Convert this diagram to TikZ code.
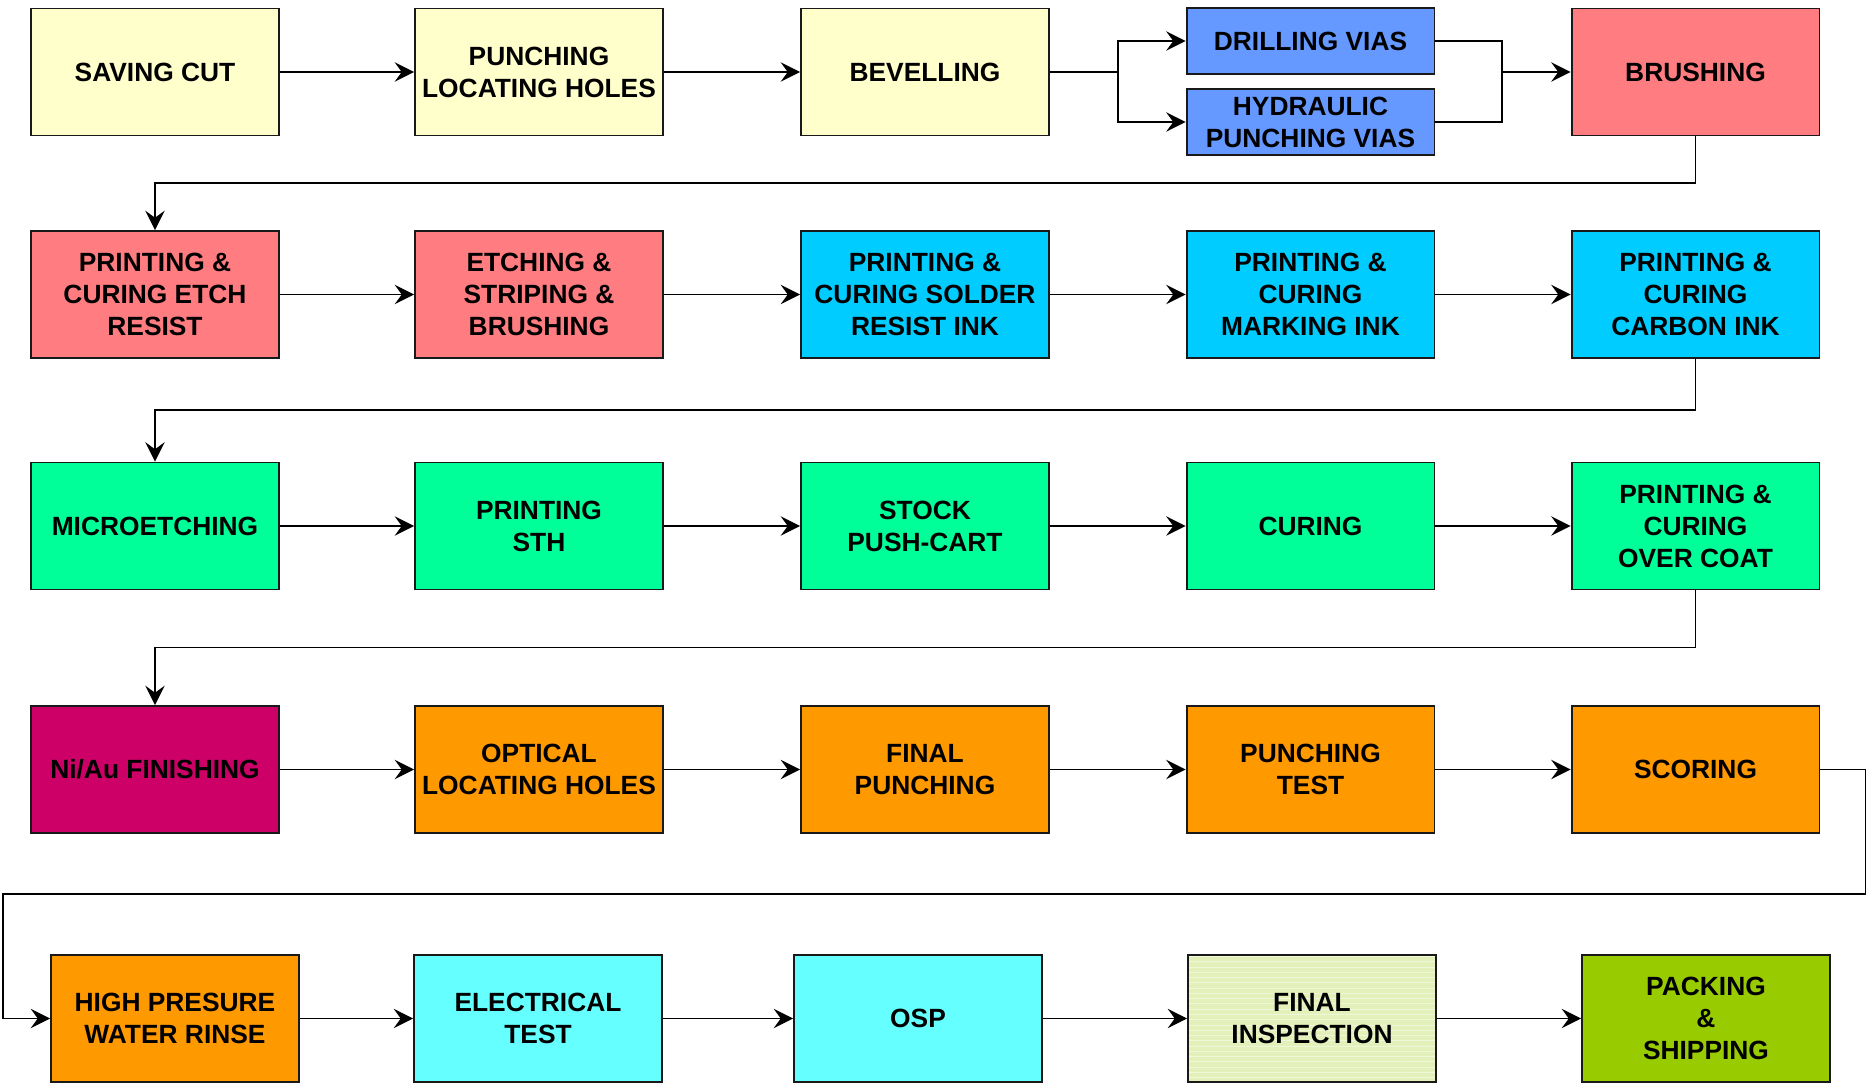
\documentclass[tikz,border=0pt]{standalone}
\usepackage{fontspec}
\setmainfont{Liberation Sans}
\usetikzlibrary{arrows.meta,patterns}
\definecolor{cyel}{HTML}{FFFFCC}
\definecolor{cblu}{HTML}{6699FF}
\definecolor{cpnk}{HTML}{FF7C80}
\definecolor{ccya}{HTML}{00CCFF}
\definecolor{cgrn}{HTML}{00FF99}
\definecolor{cmag}{HTML}{CC0066}
\definecolor{corg}{HTML}{FF9900}
\definecolor{clcy}{HTML}{66FFFF}
\definecolor{cfin}{HTML}{E3F0BA}
\definecolor{cpck}{HTML}{99CC00}
\tikzset{
  box/.style={draw=black!90, line width=1.1pt, rectangle, minimum width=4.96cm, minimum height=2.54cm,
    inner sep=0pt, align=center, font=\fontsize{15}{18.2}\selectfont\bfseries, text=black},
  sbox/.style={box, minimum height=1.31cm},
  arr/.style={line width=1.1pt, -{Stealth[length=11pt,width=11pt,inset=4pt]}},
  ln/.style={line width=1.1pt}
}
\begin{document}
\begin{tikzpicture}[x=0.02cm,y=-0.02cm]
\useasboundingbox (0,0) rectangle (1867,1089);
% row 1
\node[box, fill=cyel] (saving) at (155,72) {SAVING CUT};
\node[box, fill=cyel] (punch) at (539,72) {PUNCHING\\LOCATING HOLES};
\node[box, fill=cyel] (bevel) at (925,72) {BEVELLING};
\node[sbox, fill=cblu] (drill) at (1310.5,41) {DRILLING VIAS};
\node[sbox, fill=cblu] (hyd) at (1310.5,122) {HYDRAULIC\\PUNCHING VIAS};
\node[box, fill=cpnk] (brush) at (1695.5,72) {BRUSHING};
% row 2
\node[box, fill=cpnk] (pcer) at (155,294.5) {PRINTING \&\\CURING ETCH\\RESIST};
\node[box, fill=cpnk] (esb) at (539,294.5) {ETCHING \&\\STRIPING \&\\BRUSHING};
\node[box, fill=ccya] (pcsr) at (925,294.5) {PRINTING \&\\CURING SOLDER\\RESIST INK};
\node[box, fill=ccya] (pcmi) at (1310.5,294.5) {PRINTING \&\\CURING\\MARKING INK};
\node[box, fill=ccya] (pcci) at (1695.5,294.5) {PRINTING \&\\CURING\\CARBON INK};
% row 3
\node[box, fill=cgrn] (micro) at (155,526) {MICROETCHING};
\node[box, fill=cgrn] (psth) at (539,526) {PRINTING\\STH};
\node[box, fill=cgrn] (stock) at (925,526) {STOCK\\PUSH-CART};
\node[box, fill=cgrn] (curing) at (1310.5,526) {CURING};
\node[box, fill=cgrn] (pcoc) at (1695.5,526) {PRINTING \&\\CURING\\OVER COAT};
% row 4
\node[box, fill=cmag] (niau) at (155,769.5) {Ni/Au FINISHING};
\node[box, fill=corg] (optic) at (539,769.5) {OPTICAL\\LOCATING HOLES};
\node[box, fill=corg] (fpunch) at (925,769.5) {FINAL\\PUNCHING};
\node[box, fill=corg] (ptest) at (1310.5,769.5) {PUNCHING\\TEST};
\node[box, fill=corg] (scoring) at (1695.5,769.5) {SCORING};
% row 5
\node[box, fill=corg] (hpw) at (175,1018.5) {HIGH PRESURE\\WATER RINSE};
\node[box, fill=clcy] (etest) at (538,1018.5) {ELECTRICAL\\TEST};
\node[box, fill=clcy] (osp) at (918,1018.5) {OSP};
\node[box, fill=cfin,
  postaction={pattern=horizontal lines, pattern color=white!45!cfin},
  postaction={draw=black!90, line width=1.1pt}] (finsp) at (1312,1018.5) {FINAL\\INSPECTION};
\node[box, fill=cpck] (pack) at (1706,1018.5) {PACKING\\\&\\SHIPPING};
% coordinates
\coordinate (bl) at (1118,72);
\coordinate (br) at (1502,72);
\coordinate (t1) at (155,183);
\coordinate (t2) at (155,410);
\coordinate (t3) at (155,647.5);
\coordinate (t4a) at (1865.5,894);
\coordinate (t4b) at (3,894);
% row 1 connectors
\draw[arr] (saving) -- (punch);
\draw[arr] (punch) -- (bevel);
\draw[ln] (bevel.east) -- (bl);
\draw[arr] (bl) |- (drill.west);
\draw[arr] (bl) |- (hyd.west);
\draw[ln] (drill.east) -| (br);
\draw[ln] (hyd.east) -| (br);
\draw[arr] (br) -- (brush.west);
\draw[arr] (brush.south) |- (t1) -- (pcer.north);
% row 2
\draw[arr] (pcer) -- (esb);
\draw[arr] (esb) -- (pcsr);
\draw[arr] (pcsr) -- (pcmi);
\draw[arr] (pcmi) -- (pcci);
\draw[arr] (pcci.south) |- (t2) -- (micro.north);
% row 3
\draw[arr] (micro) -- (psth);
\draw[arr] (psth) -- (stock);
\draw[arr] (stock) -- (curing);
\draw[arr] (curing) -- (pcoc);
\draw[arr] (pcoc.south) |- (t3) -- (niau.north);
% row 4
\draw[arr] (niau) -- (optic);
\draw[arr] (optic) -- (fpunch);
\draw[arr] (fpunch) -- (ptest);
\draw[arr] (ptest) -- (scoring);
\draw[arr] (scoring.east) -| (t4a) -- (t4b) |- (hpw.west);
% row 5
\draw[arr] (hpw) -- (etest);
\draw[arr] (etest) -- (osp);
\draw[arr] (osp) -- (finsp);
\draw[arr] (finsp) -- (pack);
\end{tikzpicture}
\end{document}
